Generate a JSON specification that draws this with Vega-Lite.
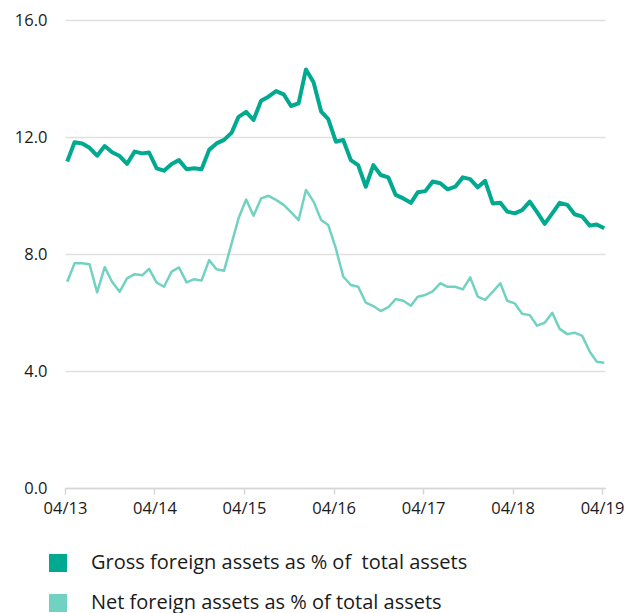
{
  "$schema": "https://vega.github.io/schema/vega-lite/v6.json",
  "autosize": "none",
  "width": 540,
  "height": 468,
  "padding": {"left": 65, "top": 20, "right": 27, "bottom": 125},
  "background": "white",
  "config": {
    "view": {"stroke": null},
    "font": "Open Sans",
    "axis": {"labelFont": "Open Sans", "labelFontSize": 16.5, "labelColor": "#1a1a1a"},
    "legend": {"labelFont": "Open Sans"}
  },
  "data": {
    "values": [
      {"date": "2013-04-10", "gross": 11.16, "net": 7.05},
      {"date": "2013-05-10", "gross": 11.82, "net": 7.68},
      {"date": "2013-06-10", "gross": 11.78, "net": 7.68},
      {"date": "2013-07-10", "gross": 11.63, "net": 7.65},
      {"date": "2013-08-10", "gross": 11.36, "net": 6.69},
      {"date": "2013-09-10", "gross": 11.69, "net": 7.55},
      {"date": "2013-10-10", "gross": 11.48, "net": 7.05},
      {"date": "2013-11-10", "gross": 11.35, "net": 6.71},
      {"date": "2013-12-10", "gross": 11.08, "net": 7.17},
      {"date": "2014-01-10", "gross": 11.50, "net": 7.31},
      {"date": "2014-02-10", "gross": 11.44, "net": 7.27},
      {"date": "2014-03-10", "gross": 11.47, "net": 7.49},
      {"date": "2014-04-10", "gross": 10.93, "net": 7.02},
      {"date": "2014-05-10", "gross": 10.85, "net": 6.88},
      {"date": "2014-06-10", "gross": 11.08, "net": 7.40},
      {"date": "2014-07-10", "gross": 11.21, "net": 7.54},
      {"date": "2014-08-10", "gross": 10.90, "net": 7.03},
      {"date": "2014-09-10", "gross": 10.93, "net": 7.14},
      {"date": "2014-10-10", "gross": 10.90, "net": 7.09},
      {"date": "2014-11-10", "gross": 11.56, "net": 7.79},
      {"date": "2014-12-10", "gross": 11.78, "net": 7.48},
      {"date": "2015-01-10", "gross": 11.90, "net": 7.43},
      {"date": "2015-02-10", "gross": 12.15, "net": 8.37},
      {"date": "2015-03-10", "gross": 12.69, "net": 9.22},
      {"date": "2015-04-10", "gross": 12.86, "net": 9.86},
      {"date": "2015-05-10", "gross": 12.58, "net": 9.31},
      {"date": "2015-06-10", "gross": 13.24, "net": 9.90},
      {"date": "2015-07-10", "gross": 13.38, "net": 9.99},
      {"date": "2015-08-10", "gross": 13.57, "net": 9.85},
      {"date": "2015-09-10", "gross": 13.46, "net": 9.68},
      {"date": "2015-10-10", "gross": 13.06, "net": 9.43},
      {"date": "2015-11-10", "gross": 13.15, "net": 9.16},
      {"date": "2015-12-10", "gross": 14.31, "net": 10.19},
      {"date": "2016-01-10", "gross": 13.87, "net": 9.79},
      {"date": "2016-02-10", "gross": 12.87, "net": 9.16},
      {"date": "2016-03-10", "gross": 12.61, "net": 8.99},
      {"date": "2016-04-10", "gross": 11.84, "net": 8.19},
      {"date": "2016-05-10", "gross": 11.90, "net": 7.23},
      {"date": "2016-06-10", "gross": 11.21, "net": 6.94},
      {"date": "2016-07-10", "gross": 11.04, "net": 6.88},
      {"date": "2016-08-10", "gross": 10.30, "net": 6.34},
      {"date": "2016-09-10", "gross": 11.04, "net": 6.22},
      {"date": "2016-10-10", "gross": 10.70, "net": 6.05},
      {"date": "2016-11-10", "gross": 10.62, "net": 6.18},
      {"date": "2016-12-10", "gross": 10.02, "net": 6.46},
      {"date": "2017-01-10", "gross": 9.90, "net": 6.40},
      {"date": "2017-02-10", "gross": 9.75, "net": 6.23},
      {"date": "2017-03-10", "gross": 10.11, "net": 6.54},
      {"date": "2017-04-10", "gross": 10.15, "net": 6.60},
      {"date": "2017-05-10", "gross": 10.48, "net": 6.72},
      {"date": "2017-06-10", "gross": 10.42, "net": 7.00},
      {"date": "2017-07-10", "gross": 10.21, "net": 6.88},
      {"date": "2017-08-10", "gross": 10.30, "net": 6.88},
      {"date": "2017-09-10", "gross": 10.62, "net": 6.79},
      {"date": "2017-10-10", "gross": 10.56, "net": 7.20},
      {"date": "2017-11-10", "gross": 10.28, "net": 6.54},
      {"date": "2017-12-10", "gross": 10.50, "net": 6.43},
      {"date": "2018-01-10", "gross": 9.73, "net": 6.71},
      {"date": "2018-02-10", "gross": 9.75, "net": 7.00},
      {"date": "2018-03-10", "gross": 9.45, "net": 6.40},
      {"date": "2018-04-10", "gross": 9.39, "net": 6.31},
      {"date": "2018-05-10", "gross": 9.50, "net": 5.96},
      {"date": "2018-06-10", "gross": 9.79, "net": 5.91},
      {"date": "2018-07-10", "gross": 9.43, "net": 5.55},
      {"date": "2018-08-10", "gross": 9.03, "net": 5.65},
      {"date": "2018-09-10", "gross": 9.39, "net": 5.99},
      {"date": "2018-10-10", "gross": 9.75, "net": 5.44},
      {"date": "2018-11-10", "gross": 9.68, "net": 5.26},
      {"date": "2018-12-10", "gross": 9.36, "net": 5.31},
      {"date": "2019-01-10", "gross": 9.28, "net": 5.20},
      {"date": "2019-02-10", "gross": 8.97, "net": 4.66},
      {"date": "2019-03-10", "gross": 9.01, "net": 4.32},
      {"date": "2019-04-10", "gross": 8.88, "net": 4.28}
    ]
  },
  "transform": [
    {"fold": ["gross", "net"], "as": ["series", "value"]},
    {"lookup": "series", "from": {"data": {"values": [
      {"series": "gross", "label": "Gross foreign assets as % of\u00a0 total assets"},
      {"series": "net", "label": "Net foreign assets as % of total assets"}
    ]}, "key": "series", "fields": ["label"]}}
  ],
  "mark": {"type": "line", "strokeJoin": "round", "strokeCap": "butt"},
  "encoding": {
    "x": {
      "field": "date",
      "type": "temporal",
      "scale": {"domain": ["2013-04-01", "2019-04-13"]},
      "axis": {
        "title": null,
        "grid": false,
        "format": "%m/%y",
        "values": ["2013-04-01", "2014-04-01", "2015-04-01", "2016-04-01", "2017-04-01", "2018-04-01", "2019-04-01"],
        "domainColor": "#d6d6d6",
        "domainWidth": 1.5,
        "tickColor": "#d6d6d6",
        "tickWidth": 1.5,
        "tickSize": 6,
        "labelPadding": 6,
        "labelFlush": false
      }
    },
    "y": {
      "field": "value",
      "type": "quantitative",
      "scale": {"domain": [0, 16], "nice": false},
      "axis": {
        "title": null,
        "values": [0, 4, 8, 12, 16],
        "format": ".1f",
        "domain": false,
        "ticks": false,
        "labelPadding": 18,
        "gridColor": "#e0e0e0",
        "gridWidth": 1.5
      }
    },
    "color": {
      "field": "label",
      "type": "nominal",
      "scale": {
        "domain": ["Gross foreign assets as % of\u00a0 total assets", "Net foreign assets as % of total assets"],
        "range": ["#00a98f", "#72d2c2"]
      },
      "legend": {
        "title": null,
        "orient": "none",
        "legendX": -17,
        "legendY": 533,
        "symbolType": "square",
        "symbolSize": 324,
        "symbolStrokeWidth": 0,
        "labelFontSize": 20,
        "labelColor": "#1a1a1a",
        "labelOffset": 23,
        "rowPadding": 20,
        "labelLimit": 560,
        "encode": {
          "symbols": {"update": {"fill": {"scale": "color", "field": "value"}, "strokeWidth": {"value": 0}, "opacity": {"value": 1}}}
        }
      }
    },
    "strokeWidth": {
      "field": "series",
      "type": "nominal",
      "scale": {"domain": ["gross", "net"], "range": [4, 2.5]},
      "legend": null
    }
  }
}
